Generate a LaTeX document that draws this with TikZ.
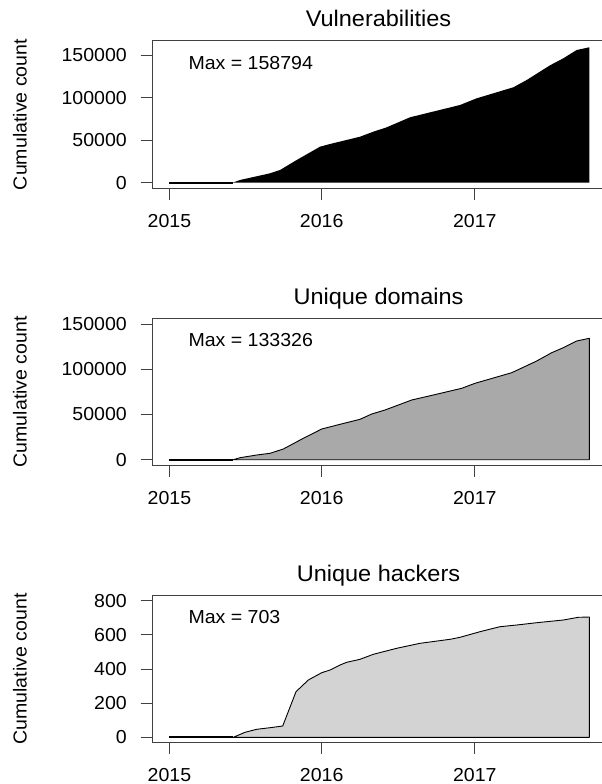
\documentclass[tikz,border=0pt]{standalone}
\usepackage{fontspec}
\setmainfont{Liberation Sans}[FakeStretch=1.04]
\begin{document}
\begin{tikzpicture}[x=1pt,y=-1pt,
  axisline/.style={draw=black!75,line width=0.9pt},
  areaplot/.style={draw=black,line width=0.9pt,line join=round},
  baseflat/.style={draw=black,line width=2pt},
  ticklab/.style={inner sep=0pt,font=\fontsize{18.8}{22}\selectfont},
  maxlab/.style={inner sep=0pt,anchor=west,font=\fontsize{18.8}{22}\selectfont},
  ylab/.style={inner sep=0pt,rotate=90,font=\fontsize{18.8}{22}\selectfont},
  paneltitle/.style={inner sep=0pt,anchor=base,font=\fontsize{22.6}{26}\selectfont}]
\definecolor{fillmid}{HTML}{A9A9A9}
\definecolor{filllight}{HTML}{D3D3D3}
\useasboundingbox (0,0) rectangle (602,784);
\fill[white] (0,0) rectangle (602,784);

% ---------- Vulnerabilities ----------
\fill[black] (169.3,182.7) -- (232.7,182.7) -- (240,180) -- (270,173.3) -- (280,170)
  -- (296.7,160) -- (320,146.7) -- (330,144) -- (360,136.7) -- (373.3,131.7)
  -- (386.7,127.3) -- (410,117.3) -- (423.3,114) -- (460,105) -- (476.7,98.3)
  -- (513.3,87.3) -- (526.7,80) -- (550,65.3) -- (563.3,58.3) -- (576.7,50)
  -- (589.3,47.3) -- (589.3,182.7) -- cycle;
\draw[baseflat] (169.3,182.7) -- (232.7,182.7);
\draw[axisline] (606,40.7) -- (152.3,40.7) -- (152.3,188.3) -- (606,188.3);
\foreach \yy/\lab in {182.7/0,140.3/50000,97.7/100000,55/150000}{
  \draw[axisline] (140.7,\yy) -- (152.3,\yy);
  \node[ticklab,anchor=east] (va\lab) at (127,\yy) {\lab};
}
\foreach \xx/\lab in {169.4/2015,321.7/2016,474.8/2017}{
  \draw[axisline] (\xx,188.3) -- (\xx,199.6);
  \node[ticklab] (vx\lab) at (\xx,221.3) {\lab};
}
\node[paneltitle] (vtitle) at (378.5,26.7) {Vulnerabilities};
\node[maxlab] (vmax) at (188.3,63.3) {Max = 158794};
\node[ylab] (vylab) at (20,114.5) {Cumulative count};

% ---------- Unique domains ----------
\fill[fillmid] (169.3,459.7) -- (233.3,459.7) -- (240,457.7) -- (256.7,455) -- (270,453.3)
  -- (283.3,449) -- (303.3,438.3) -- (321.7,429) -- (340,424.3) -- (360,419.3)
  -- (371.7,414) -- (385,410) -- (411.7,400) -- (433.3,395) -- (461.7,388.3)
  -- (475,383.3) -- (511.7,372.7) -- (536.7,361) -- (551.7,352.7) -- (563.3,347.7)
  -- (576.7,341) -- (589.3,338.3) -- (589.3,459.7) -- cycle;
\draw[areaplot] (169.3,459.7) -- (233.3,459.7) -- (240,457.7) -- (256.7,455) -- (270,453.3)
  -- (283.3,449) -- (303.3,438.3) -- (321.7,429) -- (340,424.3) -- (360,419.3)
  -- (371.7,414) -- (385,410) -- (411.7,400) -- (433.3,395) -- (461.7,388.3)
  -- (475,383.3) -- (511.7,372.7) -- (536.7,361) -- (551.7,352.7) -- (563.3,347.7)
  -- (576.7,341) -- (589.3,338.3) -- (589.3,459.7) -- cycle;
\draw[baseflat] (169.3,459.7) -- (233.3,459.7);
\draw[axisline] (606,318.3) -- (152.3,318.3) -- (152.3,465.3) -- (606,465.3);
\foreach \yy/\lab in {459.7/0,414.5/50000,369.2/100000,324/150000}{
  \draw[axisline] (140.7,\yy) -- (152.3,\yy);
  \node[ticklab,anchor=east] (da\lab) at (127,\yy) {\lab};
}
\foreach \xx/\lab in {169.4/2015,321.7/2016,474.8/2017}{
  \draw[axisline] (\xx,465.3) -- (\xx,476.6);
  \node[ticklab] (dx\lab) at (\xx,498.5) {\lab};
}
\node[paneltitle] (dtitle) at (378.5,304.2) {Unique domains};
\node[maxlab] (dmax) at (188.3,340.3) {Max = 133326};
\node[ylab] (dylab) at (20,391.8) {Cumulative count};

% ---------- Unique hackers ----------
\fill[filllight] (169.3,737.3) -- (233.3,737.3) -- (245,732.3) -- (256.7,729.3) -- (270,727.7)
  -- (282.7,726) -- (296,691.7) -- (308.3,680) -- (321.7,672.7) -- (330,670)
  -- (340,665) -- (346.7,662.3) -- (360,659.3) -- (373.3,654.3) -- (396.7,648.3)
  -- (420,643.3) -- (450,639.3) -- (460,637.3) -- (480,631.7) -- (500,626.7)
  -- (516.7,625) -- (536.7,622.7) -- (563.3,620) -- (578.3,617.3) -- (589.3,617)
  -- (589.3,737.3) -- cycle;
\draw[areaplot] (169.3,737.3) -- (233.3,737.3) -- (245,732.3) -- (256.7,729.3) -- (270,727.7)
  -- (282.7,726) -- (296,691.7) -- (308.3,680) -- (321.7,672.7) -- (330,670)
  -- (340,665) -- (346.7,662.3) -- (360,659.3) -- (373.3,654.3) -- (396.7,648.3)
  -- (420,643.3) -- (450,639.3) -- (460,637.3) -- (480,631.7) -- (500,626.7)
  -- (516.7,625) -- (536.7,622.7) -- (563.3,620) -- (578.3,617.3) -- (589.3,617)
  -- (589.3,737.3) -- cycle;
\draw[baseflat] (169.3,737.3) -- (233.3,737.3);
\draw[axisline] (606,595.2) -- (152.3,595.2) -- (152.3,742.7) -- (606,742.7);
\foreach \yy/\lab in {737.3/0,703.2/200,669/400,634.9/600,600.7/800}{
  \draw[axisline] (140.7,\yy) -- (152.3,\yy);
  \node[ticklab,anchor=east] (ha\lab) at (127,\yy) {\lab};
}
\foreach \xx/\lab in {169.4/2015,321.7/2016,474.8/2017}{
  \draw[axisline] (\xx,742.7) -- (\xx,754);
  \node[ticklab] (hx\lab) at (\xx,774.8) {\lab};
}
\node[paneltitle] (htitle) at (378.5,581.5) {Unique hackers};
\node[maxlab] (hmax) at (188.3,617.3) {Max = 703};
\node[ylab] (hylab) at (20,669) {Cumulative count};
\end{tikzpicture}
\end{document}
